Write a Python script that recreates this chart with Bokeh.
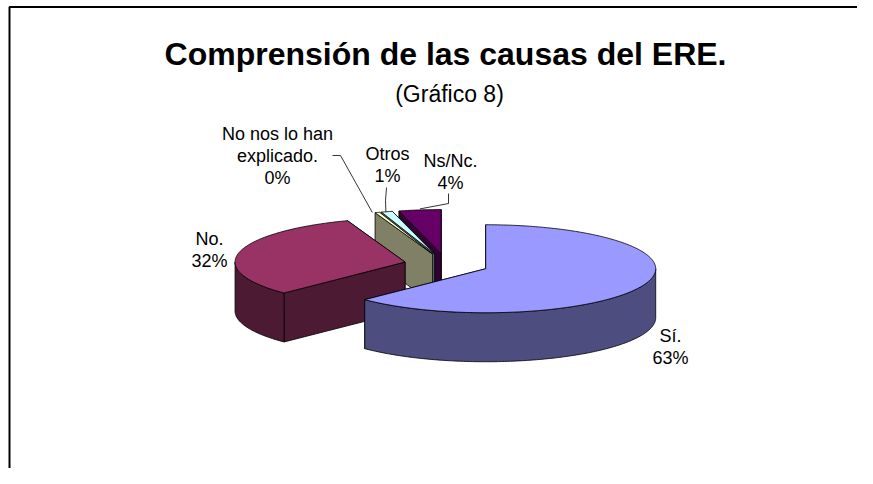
import math
from bokeh.plotting import figure
from bokeh.models import Range1d, ColumnDataSource
from bokeh.core.properties import value
from bokeh.embed import file_html
from bokeh.resources import INLINE

# ---- data ----
categories = ["Sí.", "No.", "No nos lo han explicado.", "Otros", "Ns/Nc."]
values = [62.6, 31.9, 0.45, 1.05, 4.0]
pct_labels = ["63%", "32%", "0%", "1%", "4%"]
top_colors = ["#9999FF", "#993366", "#FFFFCC", "#CCFFFF", "#660066"]
side_colors = ["#4D4D80", "#4D1A33", "#808066", "#668080", "#330033"]

title_text = "Comprensión de las causas del ERE."
subtitle_text = "(Gráfico 8)"

# ---- layout (page pixel coordinates) ----
W, H = 857, 468
CX, CY = 446.0, 264.0   # pie center
A, B = 170.0, 44.0       # ellipse semi-axes
DEPTH = 49.0
EXPLODE = 0.25
FONT = "Liberation Sans"

p = figure(width=W, height=H, output_backend="svg", toolbar_location=None,
           x_range=Range1d(0, W), y_range=Range1d(H, 0),
           min_border=0)
p.axis.visible = False
p.grid.visible = False
p.outline_line_color = None
p.background_fill_color = "white"
p.border_fill_color = "white"

total = sum(values)


def arc(cx, cy, s, e, dz=0.0):
    n = max(2, int(abs(e - s) / 1.0) + 2)
    pts = []
    for k in range(n):
        t = math.radians(s + (e - s) * k / (n - 1))
        pts.append((cx + A * math.sin(t), cy - B * math.cos(t) + dz))
    return pts


slices = []
start = 0.0
for i, v in enumerate(values):
    sweep = 360.0 * v / total
    s, e = start, start + sweep
    m = math.radians((s + e) / 2)
    cx = CX + EXPLODE * A * math.sin(m)
    cy = CY - EXPLODE * B * math.cos(m)
    slices.append(dict(i=i, s=s, e=e, cx=cx, cy=cy, m=(s + e) / 2))
    start = e

xs, ys, fills = [], [], []


def add(poly, col):
    xs.append([q[0] for q in poly])
    ys.append([q[1] for q in poly])
    fills.append(col)


for sl in sorted(slices, key=lambda d: d["cy"]):
    i, s, e, cx, cy = sl["i"], sl["s"], sl["e"], sl["cx"], sl["cy"]
    top, side = top_colors[i], side_colors[i]

    def radius_face(t):
        tt = math.radians(t)
        px, py = cx + A * math.sin(tt), cy - B * math.cos(tt)
        return [(cx, cy), (px, py), (px, py + DEPTH), (cx, cy + DEPTH)]

    start_vis = math.sin(math.radians(s)) < 0
    end_vis = math.sin(math.radians(e)) > 0
    faces = [(radius_face(s), start_vis), (radius_face(e), end_vis)]
    for f, vis in sorted(faces, key=lambda q: q[1]):
        add(f, side)
    lo, hi = max(s, 90.0), min(e, 270.0)
    if hi > lo:
        up = arc(cx, cy, lo, hi)
        down = arc(cx, cy, hi, lo, DEPTH)
        add(up + down, side)
    add([(cx, cy)] + arc(cx, cy, s, e), top)

src = ColumnDataSource(dict(xs=xs, ys=ys, fill=fills))
p.patches("xs", "ys", source=src, fill_color="fill", line_color="black",
          line_width=0.8, line_join="round")

# frame (left and top edges visible)
p.line([9, 9, W + 5], [H + 5, 6.5, 6.5], line_color="black", line_width=2)

# titles
p.text(x=[445], y=[53], text=[title_text], text_font=value(FONT),
       text_font_size="32px", text_font_style="bold", text_align="center",
       text_baseline="alphabetic", text_color="black")
p.text(x=[449], y=[93], text=[subtitle_text], text_font=value(FONT),
       text_font_size="23px", text_align="center",
       text_baseline="alphabetic", text_color="black")

# data labels
label_anchor = {0: (670, 335), 1: (209, 238), 2: (277, 133), 3: (387, 153), 4: (450, 160)}
LH = 22
lx, ly, lt = [], [], []
for i, cat in enumerate(categories):
    x0, y0 = label_anchor[i]
    if i == 2:
        lines = ["No nos lo han", "explicado."]
    else:
        lines = [cat]
    lines = lines + [pct_labels[i]]
    for k, t in enumerate(lines):
        lx.append(x0)
        ly.append(y0 + k * LH)
        lt.append(t)
p.text(x=lx, y=ly, text=lt, text_font=value(FONT), text_font_size="18px",
       text_align="center", text_baseline="middle", text_color="black")


# leader lines: from label to slice's outer top arc at mid angle
def edge_pt(i):
    sl = slices[i]
    t = math.radians(sl["m"])
    return (sl["cx"] + A * math.sin(t), sl["cy"] - B * math.cos(t))


e2, e3, e4 = edge_pt(2), edge_pt(3), edge_pt(4)
p.line([332, 340, e2[0] - 5], [155, 155, e2[1]], line_color="black", line_width=0.8)
p.line([386, 385, e3[0] - 1], [187, 200, e3[1]], line_color="black", line_width=0.8)
p.line([448, 448, e4[0]], [193, 203, e4[1] - 1], line_color="black", line_width=0.8)

open("out.html", "w").write(file_html(p, INLINE))
